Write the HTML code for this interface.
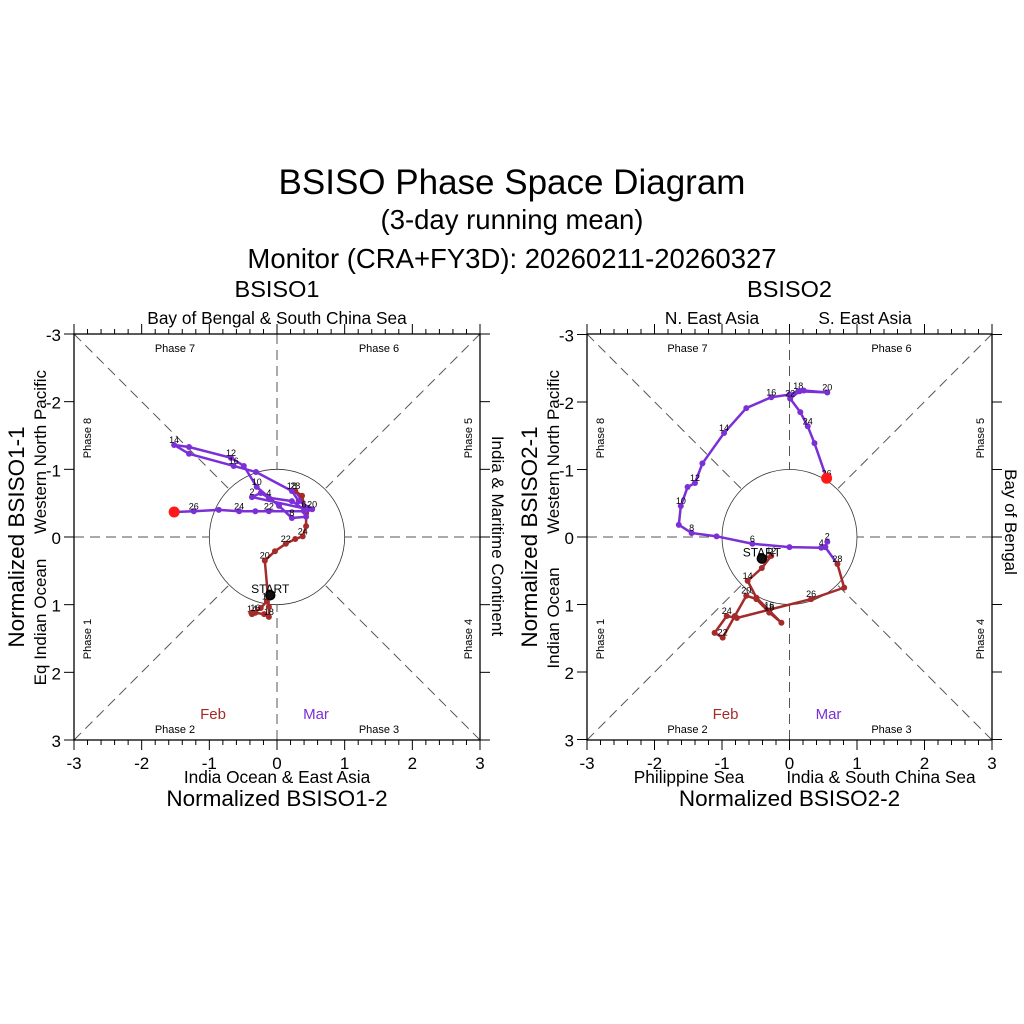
<!DOCTYPE html>
<html><head><meta charset="utf-8"><style>
body{margin:0;background:#fff;}
svg{display:block;font-family:"Liberation Sans",sans-serif;}
</style></head><body>
<svg id="chart" width="1024" height="1024" viewBox="0 0 1024 1024" xmlns="http://www.w3.org/2000/svg">
<rect width="1024" height="1024" fill="#fff"/>
<text x="512" y="194" font-size="35" text-anchor="middle">BSISO Phase Space Diagram</text>
<text x="512" y="229" font-size="27.5" text-anchor="middle">(3-day running mean)</text>
<text x="512" y="268" font-size="27.5" text-anchor="middle">Monitor (CRA+FY3D): 20260211-20260327</text>
<g id="p1"></g>
<g id="p2"></g>
</svg>
<script>
// BSISO1 data (Feb 11-28, Mar 1-27): [x = BSISO1-2, y = BSISO1-1]
const b1FebX=[-0.10,-0.15,-0.24,-0.37,-0.38,-0.32,-0.19,-0.12,-0.12,-0.18,-0.03,0.13,0.27,0.38,0.43,0.43,0.37,0.27];
const b1FebY=[0.86,0.95,1.05,1.14,1.12,1.12,1.14,1.18,1.03,0.35,0.21,0.10,0.03,-0.01,-0.16,-0.35,-0.61,-0.68];
const b1MarX=[0.46,-0.37,-0.24,-0.12,0.22,0.40,0.43,0.22,0.03,-0.30,-0.49,-0.68,-1.30,-1.52,-1.30,-0.64,-0.31,0.22,0.32,0.52,0.40,-0.12,-0.32,-0.56,-0.86,-1.23,-1.52];
const b1MarY=[-0.41,-0.59,-0.65,-0.58,-0.53,-0.41,-0.30,-0.28,-0.46,-0.74,-1.05,-1.17,-1.33,-1.36,-1.23,-1.05,-0.96,-0.68,-0.53,-0.41,-0.38,-0.38,-0.38,-0.38,-0.40,-0.38,-0.37];
// BSISO2 data
const b2FebX=[-0.41,-0.27,-0.41,-0.62,-0.49,-0.30,-0.12,-0.30,-0.49,-0.64,-0.81,-0.99,-1.11,-0.93,-0.78,0.32,0.81,0.71];
const b2FebY=[0.32,0.28,0.46,0.65,0.90,1.09,1.27,1.12,0.92,0.87,1.17,1.49,1.42,1.17,1.20,0.92,0.75,0.40];
const b2MarX=[0.53,0.56,0.53,0.47,0.00,-0.55,-1.08,-1.45,-1.64,-1.61,-1.51,-1.40,-1.29,-0.97,-0.64,-0.27,0.00,0.13,0.21,0.56,0.15,0.01,0.16,0.27,0.37,0.55];
const b2MarY=[0.15,0.07,0.15,0.16,0.15,0.10,-0.01,-0.06,-0.18,-0.46,-0.74,-0.80,-1.09,-1.54,-1.91,-2.07,-2.11,-2.16,-2.17,-2.14,-2.16,-2.05,-1.85,-1.64,-1.39,-0.87];
const febDays=[11,12,13,14,15,16,17,18,19,20,21,22,23,24,25,26,27,28];
const tickVals=[-3,-2,-1,0,1,2,3];
const NS="http://www.w3.org/2000/svg";
function el(parent,tag,attrs,txt){const e=document.createElementNS(NS,tag);for(const k in attrs)e.setAttribute(k,attrs[k]);if(txt!==undefined)e.textContent=txt;parent.appendChild(e);return e;}
function panel(g,L,R,T,B,fx,fy,mx,my,o){
  const cx=(L+R)/2,cy=(T+B)/2,s=(R-L)/6;
  const X=v=>cx+v*s, Y=v=>cy+v*s;
  const dash={stroke:"#555","stroke-width":1,"stroke-dasharray":"10,6",fill:"none"};
  const c45=Math.SQRT1_2*s;
  [[L,T,cx-c45,cy-c45],[R,T,cx+c45,cy-c45],[L,B,cx-c45,cy+c45],[R,B,cx+c45,cy+c45],[L,cy,cx-s,cy],[R,cy,cx+s,cy],[cx,T,cx,cy-s],[cx,B,cx,cy+s]].forEach(a=>{
    const d=el(g,"line",Object.assign({x1:a[0],y1:a[1],x2:a[2],y2:a[3]},dash));
    
    
  });
  const c=el(g,"circle",{cx:cx,cy:cy,r:s,fill:"none",stroke:"#333","stroke-width":0.8});
  
  
  const fr=el(g,"rect",{x:L,y:T,width:R-L,height:B-T,fill:"none",stroke:"#000","stroke-width":1.3});
  
  
  for(let i=-15;i<=15;i++){
    const v=i/5,maj=(i%5===0),len=maj?10:5;
    el(g,"line",{x1:X(v),y1:T,x2:X(v),y2:T-len,stroke:"#000","stroke-width":1});
    el(g,"line",{x1:X(v),y1:B,x2:X(v),y2:B+len,stroke:"#000","stroke-width":1});
  }
  tickVals.forEach(v=>{
    el(g,"line",{x1:L,y1:Y(v),x2:L-10,y2:Y(v),stroke:"#000","stroke-width":1});
    el(g,"line",{x1:R,y1:Y(v),x2:R+10,y2:Y(v),stroke:"#000","stroke-width":1});
    const tx=el(g,"text",{x:X(v),y:B+29,"font-size":17,"text-anchor":"middle"},String(v));
    
    
    const ty=el(g,"text",{x:L-13,y:Y(v)+7,"font-size":17,"text-anchor":"end"},String(v));
    
    
  });
  const ph=[["Phase 7",cx-102,T+18,0],["Phase 6",cx+102,T+18,0],["Phase 2",cx-102,B-7,0],["Phase 3",cx+102,B-7,0]];
  ph.forEach(p=>{const t=el(g,"text",{x:p[1],y:p[2],"font-size":11,"text-anchor":"middle"},p[0]);});
  [["Phase 8",L+17,cy-99],["Phase 1",L+17,cy+102],["Phase 5",R-8,cy-99],["Phase 4",R-8,cy+102]].forEach(p=>{
    const t=el(g,"text",{x:p[1],y:p[2],"font-size":11,"text-anchor":"middle",transform:`rotate(-90 ${p[1]} ${p[2]})`},p[0]);
    
    
  });
  const tt=el(g,"text",{x:cx,y:T-37,"font-size":23.5,"text-anchor":"middle"},o.title);
  
  o.top.forEach(t=>{const e=el(g,"text",{x:t[1],y:T-10,"font-size":17.3,"text-anchor":"middle"},t[0]);});
  o.bot.forEach(t=>{const e=el(g,"text",{x:t[1],y:B+43,"font-size":17.3,"text-anchor":"middle"},t[0]);});
  const xt=el(g,"text",{x:cx,y:B+66,"font-size":22.5,"text-anchor":"middle"},o.xt);
  
  const yt=el(g,"text",{x:L-50,y:cy,"font-size":22.5,"text-anchor":"middle",transform:`rotate(-90 ${L-50} ${cy})`},o.yt);
  
  o.left.forEach(t=>{const e=el(g,"text",{x:L-28,y:t[1],"font-size":17,"text-anchor":"middle",transform:`rotate(-90 ${L-28} ${t[1]})`},t[0]);});
  o.right.forEach(t=>{const e=el(g,"text",{x:R+t[2],y:t[1],"font-size":17,"text-anchor":"middle",transform:`rotate(90 ${R+t[2]} ${t[1]})`},t[0]);});
  const fb=el(g,"text",{x:cx-64,y:B-21,"font-size":15,fill:"#a52a2a","text-anchor":"middle"},"Feb");
  
  const mr=el(g,"text",{x:cx+39,y:B-21,"font-size":15,fill:"#7b2fd6","text-anchor":"middle"},"Mar");
  
  function series(xs,ys,col,name,days){
    const pts=xs.map((v,i)=>X(v)+","+Y(ys[i])).join(" ");
    const pl=el(g,"polyline",{points:pts,fill:"none",stroke:col,"stroke-width":2.5,"stroke-linejoin":"round"});
    
    
    xs.forEach((v,i)=>{
      const d=el(g,"circle",{cx:X(v),cy:Y(ys[i]),r:3,fill:col});
      
      
      const day=days[i];
      if(day%2===0){const t=el(g,"text",{x:X(v),y:Y(ys[i])-2,"font-size":9,"text-anchor":"middle"},String(day));}
    });
  }
  const link=el(g,"line",{x1:X(fx[fx.length-1]),y1:Y(fy[fy.length-1]),x2:X(mx[0]),y2:Y(my[0]),stroke:"#7b2fd6","stroke-width":2.5});
  
  series(fx,fy,"#a52a2a","feb-track",febDays);
  series(mx,my,"#7b2fd6","mar-track",mx.map((_,i)=>i+1));
  const st=el(g,"circle",{cx:X(fx[0]),cy:Y(fy[0]),r:4.5,fill:"#111",stroke:"#000","stroke-width":1.5});
  
  const stt=el(g,"text",{x:X(fx[0]),y:Y(fy[0])-2,"font-size":12,"text-anchor":"middle"},"START");
  
  const en=el(g,"circle",{cx:X(mx[mx.length-1]),cy:Y(my[my.length-1]),r:5.5,fill:"#ff1a1a"});
  
}
panel(document.getElementById("p1"),74,480,334,740,b1FebX,b1FebY,b1MarX,b1MarY,{
  title:"BSISO1",top:[["Bay of Bengal & South China Sea",277]],bot:[["India Ocean & East Asia",277]],
  xt:"Normalized BSISO1-2",yt:"Normalized BSISO1-1",
  left:[["Western North Pacific",452],["Eq Indian Ocean",622]],right:[["India & Maritime Continent",536,12]]});
panel(document.getElementById("p2"),587,992,334,740,b2FebX,b2FebY,b2MarX,b2MarY,{
  title:"BSISO2",top:[["N. East Asia",712],["S. East Asia",865]],bot:[["Philippine Sea",689],["India & South China Sea",881]],
  xt:"Normalized BSISO2-2",yt:"Normalized BSISO2-1",
  left:[["Western North Pacific",452],["Indian Ocean",618]],right:[["Bay of Bengal",522,13]]});
</script>
</body></html>
